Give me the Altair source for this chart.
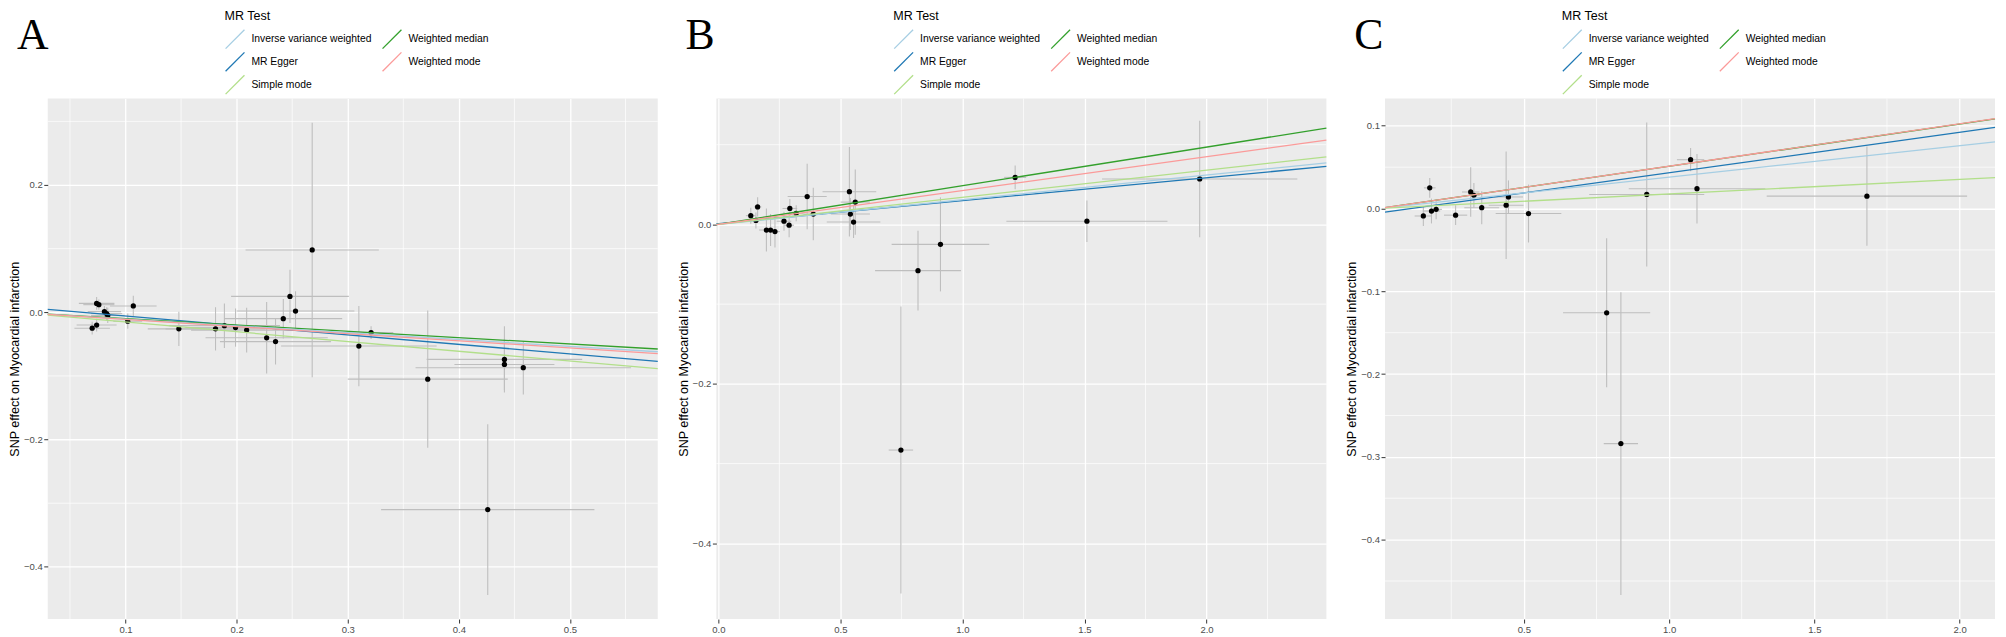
import altair as alt
import pandas as pd

FONT = "Liberation Sans"
SERIF = "Liberation Serif"

# MR methods; legend is filled column-wise (2 columns)
METHODS = ["Inverse variance weighted", "MR Egger", "Simple mode", "Weighted median", "Weighted mode"]
METHOD_COLORS = ["#A6CEE3", "#1F78B4", "#B2DF8A", "#33A02C", "#FB9A99"]
DRAW_ORDER = ["MR Egger", "Weighted median", "Inverse variance weighted", "Simple mode", "Weighted mode"]

Y_TITLE = "SNP effect on Myocardial infarction"

# ---------------- Panel A ----------------
A_X = [0.070, 0.074, 0.074, 0.076, 0.081, 0.083, 0.084, 0.102, 0.107, 0.148, 0.181, 0.189, 0.199, 0.209,
       0.227, 0.235, 0.242, 0.248, 0.253, 0.268, 0.310, 0.321, 0.372, 0.441, 0.441, 0.458, 0.426]
A_Y = [-0.025, -0.020, 0.014, 0.012, 0.001, -0.002, -0.005, -0.014, 0.010, -0.026, -0.026, -0.021, -0.024, -0.028,
       -0.040, -0.046, -0.010, 0.025, 0.002, 0.098, -0.053, -0.032, -0.105, -0.074, -0.082, -0.087, -0.310]
A_SX = [0.016, 0.018, 0.016, 0.014, 0.015, 0.014, 0.015, 0.013, 0.021, 0.028, 0.045, 0.050, 0.045, 0.050,
        0.055, 0.050, 0.053, 0.053, 0.053, 0.060, 0.070, 0.020, 0.072, 0.070, 0.045, 0.097, 0.096]
A_SY = [0.010, 0.010, 0.010, 0.008, 0.009, 0.010, 0.012, 0.012, 0.016, 0.027, 0.034, 0.035, 0.030, 0.035,
        0.056, 0.036, 0.031, 0.042, 0.031, 0.200, 0.063, 0.010, 0.108, 0.052, 0.040, 0.042, 0.134]
A_SLOPE = [-0.107, -0.149, -0.153, -0.0996, -0.112]
A_INTERCEPT = [0.0, 0.0092, 0.0, 0.0, 0.0]
A_XDOM = [0.030, 0.579]
A_YDOM = [-0.482, 0.336]
A_XTICKS = [0.1, 0.2, 0.3, 0.4, 0.5]
A_XMINOR = [0.05, 0.15, 0.25, 0.35, 0.45, 0.55]
A_YTICKS = [-0.4, -0.2, 0.0, 0.2]
A_YMINOR = [-0.3, -0.1, 0.1, 0.3]

# ---------------- Panel B ----------------
B_X = [0.133, 0.161, 0.154, 0.197, 0.214, 0.232, 0.269, 0.290, 0.293, 0.319, 0.364, 0.389,
       0.537, 0.561, 0.541, 0.554, 0.748, 0.818, 0.910, 1.216, 1.510, 1.972]
B_Y = [0.011, 0.022, 0.005, -0.007, -0.007, -0.009, 0.004, -0.001, 0.020, 0.014, 0.035, 0.013,
       0.041, 0.028, 0.013, 0.003, -0.283, -0.058, -0.025, 0.059, 0.004, 0.057]
B_SX = [0.020, 0.015, 0.020, 0.030, 0.020, 0.020, 0.030, 0.020, 0.030, 0.030, 0.080, 0.040,
        0.110, 0.060, 0.080, 0.110, 0.050, 0.176, 0.200, 0.045, 0.330, 0.400]
B_SY = [0.010, 0.012, 0.010, 0.027, 0.020, 0.020, 0.012, 0.015, 0.012, 0.010, 0.041, 0.033,
        0.056, 0.041, 0.020, 0.020, 0.180, 0.050, 0.059, 0.015, 0.026, 0.073]
B_SLOPE = [0.031, 0.0288, 0.034, 0.0485, 0.0425]
B_INTERCEPT = [0.0, 0.001, 0.0, 0.0, 0.0]
B_XDOM = [-0.008, 2.491]
B_YDOM = [-0.495, 0.158]
B_XTICKS = [0.0, 0.5, 1.0, 1.5, 2.0]
B_XMINOR = [0.25, 0.75, 1.25, 1.75, 2.25]
B_YTICKS = [-0.4, -0.2, 0.0]
B_YMINOR = [-0.3, -0.1, 0.1]

# ---------------- Panel C ----------------
C_X = [0.154, 0.176, 0.182, 0.198, 0.265, 0.317, 0.328, 0.355, 0.439, 0.447, 0.516,
       0.923, 1.074, 1.096, 1.681, 0.785, 0.834]
C_Y = [-0.009, 0.025, -0.003, -0.001, -0.008, 0.020, 0.016, 0.001, 0.004, 0.014, -0.006,
       0.017, 0.059, 0.024, 0.015, -0.126, -0.284]
C_SX = [0.030, 0.020, 0.030, 0.020, 0.040, 0.030, 0.020, 0.060, 0.060, 0.050, 0.113,
        0.198, 0.047, 0.235, 0.345, 0.150, 0.059]
C_SY = [0.012, 0.012, 0.015, 0.012, 0.012, 0.030, 0.015, 0.020, 0.065, 0.020, 0.035,
        0.087, 0.014, 0.042, 0.060, 0.090, 0.183]
C_SLOPE = [0.038, 0.0487, 0.0176, 0.0510, 0.0512]
C_INTERCEPT = [0.0, -0.0054, 0.0, 0.0, 0.0]
C_XDOM = [0.022, 2.122]
C_YDOM = [-0.496, 0.133]
C_XTICKS = [0.5, 1.0, 1.5, 2.0]
C_XMINOR = [0.25, 0.75, 1.25, 1.75]
C_YTICKS = [-0.4, -0.3, -0.2, -0.1, 0.0, 0.1]
C_YMINOR = [-0.45, -0.35, -0.25, -0.15, -0.05, 0.05]

PANEL_LETTERS = ["A", "B", "C"]

PLOT_W = 614
PLOT_H = 524


def make_legend(row_pad):
    return alt.Legend(
        orient="none", legendX=178, legendY=-89, title="MR Test",
        titleFont=FONT, titleFontSize=12.6, titleFontWeight="normal", titleColor="black",
        titlePadding=6, titleAnchor="start",
        labelFont=FONT, labelFontSize=10.4, labelColor="black", labelOffset=6, labelLimit=300,
        columns=2, columnPadding=8, rowPadding=row_pad, symbolSize=361, padding=0,
        symbolType="M-1,1L1,-1", symbolStrokeWidth=1.3,
    )


def panel(letter, X, Y, SX, SY, SLOPE, ICPT, XDOM, YDOM, XT, XM, YT, YM, row_pad):
    pts = pd.DataFrame({"x": X, "y": Y, "sx": SX, "sy": SY})
    pts["xlo"] = pts["x"] - pts["sx"]
    pts["xhi"] = pts["x"] + pts["sx"]
    pts["ylo"] = pts["y"] - pts["sy"]
    pts["yhi"] = pts["y"] + pts["sy"]

    slope = dict(zip(METHODS, SLOPE))
    icpt = dict(zip(METHODS, ICPT))
    rows = []
    for m in DRAW_ORDER:
        for xv in XDOM:
            rows.append({"method": m, "x": xv, "y": icpt[m] + slope[m] * xv})
    lines = pd.DataFrame(rows)

    xminor = pd.DataFrame({"v": XM})
    yminor = pd.DataFrame({"v": YM})
    tag = pd.DataFrame({"x": [XDOM[0]], "y": [YDOM[1]], "t": [letter]})

    xs = alt.Scale(domain=XDOM, nice=False, zero=False)
    ys = alt.Scale(domain=YDOM, nice=False, zero=False)
    xaxis = alt.Axis(values=XT, format=".1f", grid=True, gridColor="white", gridWidth=1.3,
                     domain=False, ticks=True, tickColor="#333333", tickSize=4, tickWidth=1,
                     labelFont=FONT, labelFontSize=9.6, labelColor="#4D4D4D", labelPadding=1.5,
                     title=None)
    yaxis = alt.Axis(values=YT, format=".1f", grid=True, gridColor="white", gridWidth=1.3,
                     domain=False, ticks=True, tickColor="#333333", tickSize=4, tickWidth=1,
                     labelFont=FONT, labelFontSize=9.6, labelColor="#4D4D4D", labelPadding=1.5,
                     title=Y_TITLE, titleFont=FONT, titleFontSize=12.6, titleFontWeight="normal",
                     titleColor="black", titlePadding=2)

    def X_(f):
        return alt.X(f, type="quantitative", scale=xs, axis=xaxis)

    def Y_(f):
        return alt.Y(f, type="quantitative", scale=ys, axis=yaxis)

    vminor = alt.Chart(xminor).mark_rule(color="white", strokeWidth=0.7).encode(x=X_("v"))
    hminor = alt.Chart(yminor).mark_rule(color="white", strokeWidth=0.7).encode(y=Y_("v"))
    hbar = alt.Chart(pts).mark_rule(color="#BEBEBE", strokeWidth=1.1).encode(
        x=X_("xlo"), x2="xhi", y=Y_("y"))
    vbar = alt.Chart(pts).mark_rule(color="#BEBEBE", strokeWidth=1.1).encode(
        x=X_("x"), y=Y_("ylo"), y2="yhi")
    dots = alt.Chart(pts).mark_circle(size=28, color="black", opacity=1).encode(
        x=X_("x"), y=Y_("y"))
    fits = alt.Chart(lines).mark_line(strokeWidth=1.3).encode(
        x=X_("x"), y=Y_("y"),
        stroke=alt.Stroke("method:N",
                          scale=alt.Scale(domain=METHODS, range=METHOD_COLORS),
                          legend=make_legend(row_pad)),
        detail="method:N",
    )
    # panel letter, anchored at the plot's top-left corner and pushed above it
    letter_mark = alt.Chart(tag).mark_text(
        font=SERIF, fontSize=44, fontWeight="normal", color="black",
        align="left", baseline="alphabetic", dx=-31, dy=-49.5,
    ).encode(x=X_("x"), y=Y_("y"), text="t:N")
    return alt.layer(vminor, hminor, hbar, vbar, dots, fits, letter_mark).properties(
        width=PLOT_W, height=PLOT_H,
    )


def build(row_pad):
    pA = panel(PANEL_LETTERS[0], A_X, A_Y, A_SX, A_SY, A_SLOPE, A_INTERCEPT, A_XDOM, A_YDOM,
               A_XTICKS, A_XMINOR, A_YTICKS, A_YMINOR, row_pad)
    pB = panel(PANEL_LETTERS[1], B_X, B_Y, B_SX, B_SY, B_SLOPE, B_INTERCEPT, B_XDOM, B_YDOM,
               B_XTICKS, B_XMINOR, B_YTICKS, B_YMINOR, row_pad)
    pC = panel(PANEL_LETTERS[2], C_X, C_Y, C_SX, C_SY, C_SLOPE, C_INTERCEPT, C_XDOM, C_YDOM,
               C_XTICKS, C_XMINOR, C_YTICKS, C_YMINOR, row_pad)
    return (
        alt.hconcat(pA, pB, pC, spacing=16)
        .resolve_scale(stroke="independent")
        .properties(padding=0, background="white")
        .configure_view(fill="#EBEBEB", strokeWidth=0)
    )


try:
    chart = build(-7)
    chart.to_dict()
except Exception:
    chart = build(0)

chart.save("out.html", embed_options={"renderer": "svg", "actions": False})
